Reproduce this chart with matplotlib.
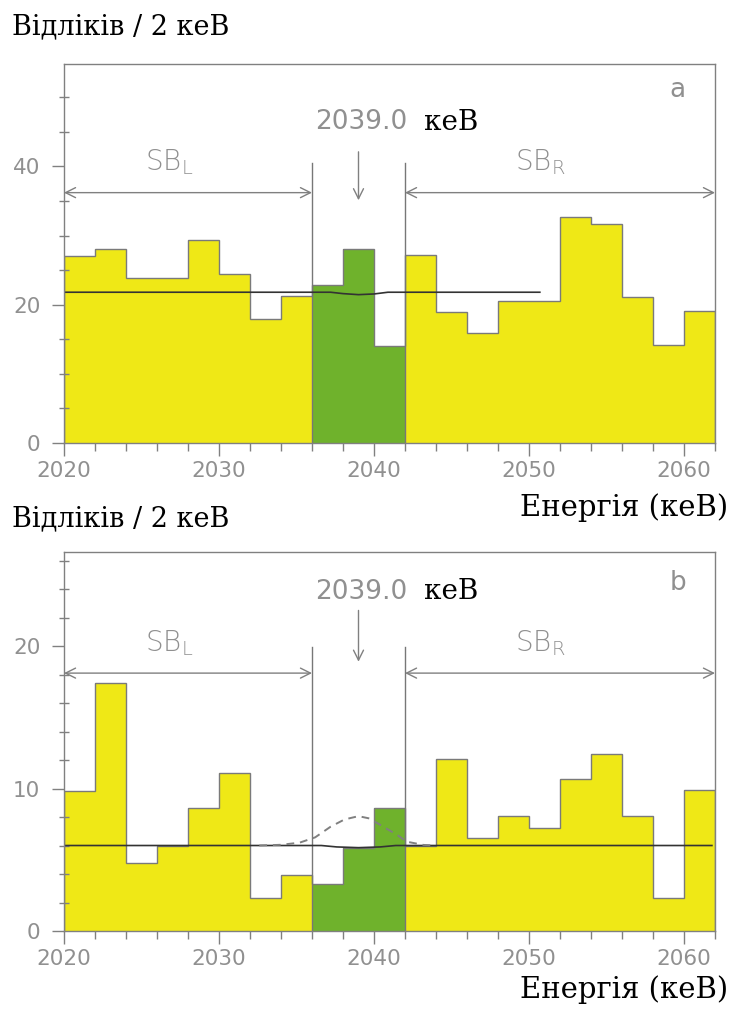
import numpy as np
import matplotlib
matplotlib.use("Agg")
from matplotlib import pyplot as plt
from matplotlib.ticker import MultipleLocator

# 数据：2 keV 分箱，2020-2062 keV
bin_edges = np.arange(2020, 2064, 2)
counts_a = [27.0, 28.1, 23.9, 23.9, 29.3, 24.5, 17.9, 21.3, 22.8, 28.1, 14.0,
            27.2, 18.9, 15.9, 20.5, 20.5, 32.7, 31.6, 21.1, 14.2, 19.1]
counts_b = [9.8, 17.4, 4.8, 6.0, 8.6, 11.1, 2.3, 3.9, 3.3, 5.8, 8.6,
            6.0, 12.1, 6.5, 8.1, 7.2, 10.7, 12.4, 8.1, 2.3, 9.9]

# 拟合曲线（从图上读出的点）
fit_a_x = [2020.0, 2037.2, 2038.0, 2039.0, 2040.0, 2040.9, 2050.7]
fit_a_y = [21.8, 21.8, 21.6, 21.45, 21.55, 21.8, 21.8]
fit_b_x = [2020.0, 2036.6, 2037.6, 2039.0, 2040.4, 2041.4, 2061.8]
fit_b_y = [6.0, 6.0, 5.9, 5.85, 5.9, 6.0, 6.0]
sig_b_x = [2032.6, 2034.0, 2035.2, 2036.2, 2037.2, 2038.1, 2039.0,
           2039.7, 2040.6, 2041.5, 2042.1, 2043.2, 2044.0]
sig_b_y = [6.0, 6.05, 6.2, 6.57, 7.32, 7.83, 8.06, 7.9, 7.32, 6.74, 6.27, 6.04, 6.0]

roi_lo, roi_hi = 2036, 2042
q_value = 2039.0

yellow = "#efe816"
green = "#6fb22c"
gray = "#909090"
edge = "#7a7a7a"

W, H = 731, 1018
fig = plt.figure(figsize=(W / 100, H / 100), dpi=100)


def px_axes(left, top, right, bottom):
    return fig.add_axes([left / W, 1 - bottom / H, (right - left) / W, (bottom - top) / H])


def draw_panel(ax, counts, ymax, major, minor, fit_x, fit_y, sig_x, sig_y,
               line_top, sb_y, sb_text_y, q_text_y, arrow_from, arrow_to, tag, tag_y):
    lefts = bin_edges[:-1]
    colors = [green if roi_lo <= l < roi_hi else yellow for l in lefts]
    ax.bar(lefts, counts, width=2, align="edge", color=colors, linewidth=0, zorder=1)
    ax.stairs(counts, bin_edges, color=edge, linewidth=1.0, zorder=2)
    ax.plot(fit_x, fit_y, color="#333333", linewidth=1.2, zorder=4)
    if sig_x is not None:
        ax.plot(sig_x, sig_y, color="#808080", linewidth=1.4, dashes=(4, 3), zorder=4)

    for xv in (roi_lo, roi_hi):
        ax.plot([xv, xv], [0, line_top], color="#777777", linewidth=1.0, zorder=3)

    arr = dict(arrowstyle="<->", color="#808080", lw=1.0, shrinkA=0, shrinkB=0,
               mutation_scale=18)
    ax.annotate("", xy=(2020, sb_y), xytext=(roi_lo, sb_y), arrowprops=arr, zorder=3)
    ax.annotate("", xy=(roi_hi, sb_y), xytext=(2062, sb_y), arrowprops=arr, zorder=3)
    ax.text(2026.8, sb_text_y, r"SB$_\mathregular{L}$", color=gray, fontsize=20,
            ha="center", va="center", fontweight="light")
    ax.text(2050.7, sb_text_y, r"SB$_\mathregular{R}$", color=gray, fontsize=20,
            ha="center", va="center", fontweight="light")

    ax.annotate("", xy=(q_value, arrow_to), xytext=(q_value, arrow_from),
                arrowprops=dict(arrowstyle="->", color="#808080", lw=1.0,
                                shrinkA=0, shrinkB=0, mutation_scale=18))
    ax.text(2039.2, q_text_y, "2039.0", color=gray, fontsize=19, ha="center", va="center")
    ax.text(2043.2, q_text_y, "кеВ", color="black", fontsize=20, ha="left", va="center",
            family="DejaVu Serif")
    ax.text(2059.6, tag_y, tag, color=gray, fontsize=19, ha="center", va="center")

    ax.set_xlim(2020, 2062)
    ax.set_ylim(0, ymax)
    ax.xaxis.set_major_locator(MultipleLocator(10))
    ax.xaxis.set_minor_locator(MultipleLocator(2))
    ax.yaxis.set_major_locator(MultipleLocator(major))
    ax.yaxis.set_minor_locator(MultipleLocator(minor))
    ax.tick_params(axis="x", which="major", direction="out", length=9, width=1,
                   color="#808080", labelcolor=gray, labelsize=15.5, pad=4)
    ax.tick_params(axis="x", which="minor", direction="out", length=6, width=1, color="#808080")
    ax.tick_params(axis="y", which="major", direction="out", length=9, width=1,
                   color="#808080", labelcolor=gray, labelsize=15.5, pad=8)
    ax.tick_params(axis="y", which="minor", direction="inout", length=7, width=1, color="#808080")
    for s in ax.spines.values():
        s.set_color("#808080")
        s.set_linewidth(1.0)
        s.set_zorder(5)


ax1 = px_axes(64, 64, 715, 443)
draw_panel(ax1, counts_a, 54.8, 20, 5, fit_a_x, fit_a_y, None, None,
           line_top=40.5, sb_y=36.2, sb_text_y=40.6, q_text_y=46.4,
           arrow_from=42.1, arrow_to=35.1, tag="a", tag_y=51.0)

ax2 = px_axes(64, 552, 715, 931)
draw_panel(ax2, counts_b, 26.6, 10, 2, fit_b_x, fit_b_y, sig_b_x, sig_b_y,
           line_top=19.9, sb_y=18.1, sb_text_y=20.2, q_text_y=23.8,
           arrow_from=22.5, arrow_to=18.9, tag="b", tag_y=24.4)

ylabel_font = dict(family="DejaVu Serif", fontsize=19.5, color="black")
xlabel_font = dict(family="DejaVu Serif", fontsize=21, color="black")
fig.text(12 / W, 1 - 27 / H, "Відліків / 2 кеВ", ha="left", va="center", **ylabel_font)
fig.text(12 / W, 1 - 519 / H, "Відліків / 2 кеВ", ha="left", va="center", **ylabel_font)
fig.text(728 / W, 1 - 508 / H, "Енергія (кеВ)", ha="right", va="center", **xlabel_font)
fig.text(728 / W, 1 - 990 / H, "Енергія (кеВ)", ha="right", va="center", **xlabel_font)

fig.savefig("out.png", dpi=100)
